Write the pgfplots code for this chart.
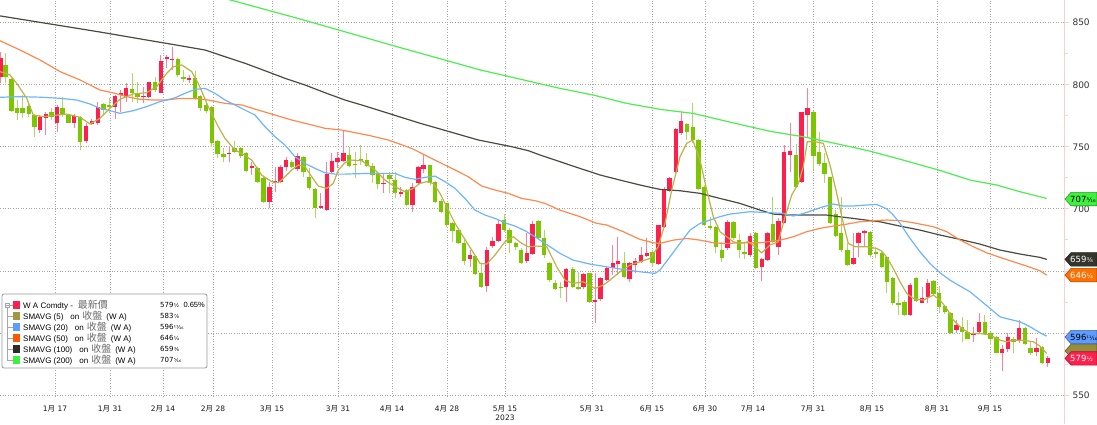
\documentclass[border=0pt]{standalone}
\usepackage{fontspec}
\setmainfont{DejaVu Sans}
\newfontfamily\cjk{Noto Sans CJK TC}
\newfontfamily\lib{Liberation Sans}
\usepackage{pgfplots}
\pgfplotsset{compat=1.18}
\usepackage{pgfplotstable}

\definecolor{upbody}{HTML}{FF1F4D}
\definecolor{upwick}{HTML}{FF7E98}
\definecolor{dnbody}{HTML}{7CC600}
\definecolor{dnwick}{HTML}{ACD86A}
\definecolor{sma5}{HTML}{BDB24A}
\definecolor{sma20}{HTML}{6DB6FF}
\definecolor{sma50}{HTML}{FF8A4C}
\definecolor{sma100}{HTML}{4A4B3E}
\definecolor{sma200}{HTML}{4DEE4D}
\definecolor{axpink}{HTML}{FFCFCF}
\definecolor{gridc}{HTML}{A6A6A6}

% price with an eighths/sixteenths fraction, set small after the figure
\newcommand\px[3][6.5]{#2{\fontsize{#1}{#1}\selectfont\kern0.3pt#3}}
\newcommand\md[2]{#1{\cjk 月} #2}

% x = chart column, o h l c = open high low close
\pgfplotstableread{
x o h l c
1 806.5 826.7 801.2 821.3
5.7 816.0 825.3 801.2 806.5
11.7 804.7 805.2 778.3 779.1
17.3 781.0 787.7 771.6 777.5
22.7 781.3 791.8 773.0 777.5
29 782.9 785.0 774.3 776.4
34.7 775.6 776.4 758.2 766.2
40 763.5 775.6 760.9 774.3
46 773.5 778.3 759.5 776.4
51.7 778.3 781.0 771.6 774.3
57.3 768.9 783.7 762.2 782.4
62.7 781.0 789.9 774.3 776.4
68.7 775.6 776.4 768.9 769.4
74 769.4 776.4 764.9 774.8
80 773.8 774.8 747.4 754.1
86 754.9 768.9 752.8 766.7
91.7 768.4 772.4 767.6 771.1
97.7 768.9 786.4 767.6 782.4
103.3 784.5 785.0 776.4 779.7
109 783.5 789.1 777.0 782.2
115 782.4 791.8 772.4 791.2
120.7 791.8 795.8 778.3 793.6
126 790.4 801.2 786.4 797.1
132 796.3 809.2 786.4 793.6
137.3 793.6 802.5 785.0 789.9
143.3 789.9 798.4 785.0 791.2
148.7 790.4 802.5 789.1 802.0
155 802.0 806.5 794.4 795.8
160.7 793.6 824.0 793.1 819.4
166.7 820.8 824.0 813.3 822.1
172 819.8 830.7 811.9 821.0
177.7 820.8 821.3 806.5 807.9
183.3 806.0 811.9 802.5 804.7
189 803.8 807.8 801.1 805.1
195 805.2 811.3 787.7 789.0
200 790.9 791.7 779.1 781.0
206 783.7 785.0 776.9 779.1
211.7 782.3 782.9 750.1 753.3
217.3 754.9 755.4 740.7 744.2
223.3 744.2 748.7 738.0 741.5
229 743.9 750.1 738.0 745.2
234.3 748.7 754.9 744.7 746.0
240.7 748.7 750.1 740.7 742.6
246 745.2 746.0 729.9 730.7
251.7 733.0 738.0 727.2 734.2
257.3 732.6 733.4 720.5 721.9
263.3 724.5 725.9 704.4 705.7
269.3 705.7 721.9 700.4 717.3
275 720.5 733.4 713.8 722.7
280.3 721.9 735.3 720.5 733.4
286 733.9 742.0 730.7 739.3
291.7 738.0 739.3 732.6 733.4
297.3 731.8 744.7 730.7 742.6
303.3 742.0 742.6 725.9 729.9
309 725.4 732.6 715.1 716.5
315 715.7 716.5 692.3 700.4
320.7 700.8 712.5 699.6 702.2
326.7 699.0 738.0 698.5 728.0
331.7 729.9 745.2 728.6 738.5
337.3 738.0 746.0 732.6 741.2
343.3 738.8 763.5 738.0 744.7
349 743.4 750.1 734.0 734.5
355 736.3 746.0 724.5 735.0
360.7 740.1 751.4 735.3 738.5
366.7 739.3 744.7 734.0 734.8
372.3 734.5 737.2 720.5 727.3
377.7 728.6 730.0 715.7 719.7
383.3 719.8 728.6 712.5 721.0
389.3 727.0 730.0 712.5 724.0
395 723.2 730.0 708.4 712.5
400.7 711.7 717.8 709.8 713.8
406.7 715.1 715.7 702.3 703.1
412.3 703.1 720.5 697.7 717.8
418.3 720.5 734.5 719.2 734.0
423.3 731.8 743.4 728.6 735.3
430 735.3 735.5 719.2 720.5
435 721.9 722.7 704.4 705.8
441 706.6 707.6 696.4 697.7
446.7 704.4 704.9 685.6 687.0
452.3 688.3 689.6 673.5 682.4
458.3 682.9 684.3 671.6 672.2
464 672.7 674.9 654.7 658.2
470 659.5 666.8 653.4 662.8
475 662.0 662.8 646.6 647.5
481 648.5 656.1 636.5 637.2
486.7 637.8 669.5 633.2 666.8
492.3 670.0 677.5 668.1 674.3
498.3 674.1 691.0 673.5 687.5
504 691.0 695.8 681.6 682.9
509.3 682.9 684.3 664.1 672.7
515.7 672.2 673.5 666.8 669.0
521 666.8 668.1 655.5 656.1
526.7 658.2 680.8 656.6 664.1
532.3 663.6 690.4 662.8 687.8
538.3 690.2 691.0 674.9 676.2
544 676.2 682.9 660.1 662.8
549.3 656.0 657.4 641.3 642.6
555 639.9 642.6 634.5 635.1
560.7 637.4 641.3 627.8 636.2
566 637.2 652.0 625.1 651.2
572.7 651.2 653.3 635.9 636.7
578.3 637.2 649.3 634.5 635.6
583.3 637.2 648.5 635.1 647.4
589.3 648.0 648.5 623.8 625.1
595 625.3 648.5 608.2 626.8
600.5 627.0 645.0 626.0 644.0
606.7 642.6 653.3 642.0 652.0
612.7 652.0 670.8 646.6 656.0
617.7 655.5 677.5 646.6 657.9
624 656.6 665.4 644.0 644.8
629.3 643.1 657.4 641.3 656.0
635 654.7 660.1 648.0 658.2
641 657.4 669.5 656.0 662.8
646.7 662.0 676.2 661.4 664.1
652.3 665.4 666.8 653.3 656.6
658.3 655.5 687.0 654.7 687.0
664 685.1 717.8 684.3 715.7
669.3 714.6 725.4 713.8 724.6
675.7 730.0 764.9 728.6 764.1
681 760.8 778.3 759.5 770.8
686.7 768.1 768.9 755.5 762.2
692.7 765.7 785.0 752.8 755.5
698.3 755.5 756.0 715.2 715.7
704 717.8 719.2 686.1 687.0
710 686.1 693.7 682.9 684.3
715.7 685.6 686.1 664.1 668.9
721.7 666.8 673.5 657.4 660.1
727.3 668.1 690.9 666.8 689.6
733.3 689.6 690.4 674.8 676.2
739 674.8 679.7 660.1 666.8
744.3 665.4 672.2 659.3 663.3
750 662.8 680.2 661.4 678.1
755.7 680.2 681.6 651.2 652.0
761.7 652.8 660.1 642.1 659.3
767.3 658.7 681.6 658.2 680.8
772.7 687.7 709.2 672.2 673.5
778.3 669.5 692.3 662.8 690.4
784 688.8 751.4 688.3 746.0
790 743.4 768.9 729.9 746.6
796 743.4 752.2 716.5 717.8
801.3 721.9 778.3 721.1 778.3
807.3 775.6 797.1 758.1 781.0
813.3 778.3 779.1 731.3 742.6
819 746.0 762.2 734.5 736.1
824.3 737.2 744.7 720.5 728.0
830 725.4 725.9 687.7 688.3
835.7 695.8 699.0 677.5 678.1
841 680.2 709.8 665.4 666.8
847.3 666.8 672.2 653.9 654.7
853.3 655.5 680.8 654.7 660.1
858.3 672.7 681.6 661.4 680.8
864.3 680.6 682.9 669.5 681.8
870 681.6 682.4 661.4 662.8
875.7 665.4 669.5 660.1 663.6
881.7 664.6 665.4 652.0 653.3
886.7 660.9 662.0 631.9 641.3
892.7 644.0 645.3 622.4 623.8
898.3 624.3 633.2 614.4 622.3
904.3 625.1 626.5 613.6 614.4
910 614.4 639.9 613.6 638.6
916 644.0 645.3 625.1 626.0
922 624.3 636.7 623.8 627.8
927.7 628.6 643.4 624.3 639.9
933.3 642.1 642.6 630.5 631.3
939 631.9 637.8 615.7 621.1
944.7 621.9 622.5 615.2 617.1
950.3 616.3 617.1 599.1 599.6
956.3 602.3 610.4 599.6 606.1
962 605.0 613.0 592.9 601.0
967.3 601.0 610.4 594.8 595.3
973.3 598.0 605.0 592.9 599.2
979 600.7 615.7 599.1 608.8
984.7 608.8 614.4 598.3 599.1
990.3 599.6 601.0 590.2 595.3
996.3 596.9 597.5 583.5 584.0
1002 583.5 590.2 569.5 586.7
1007.7 586.7 600.1 584.8 596.9
1013.3 595.3 596.9 583.5 592.9
1019 593.2 610.4 592.1 603.7
1025 603.7 605.0 590.2 591.0
1030.3 587.5 592.9 582.2 583.5
1036.3 584.8 595.6 581.3 588.0
1042 588.9 589.4 574.9 575.4
1047.7 576.0 581.3 572.7 579.5
}\candles

\pgfplotsset{
  candle/.style 2 args={draw=none, mark=none, forget plot,
    error bars/y dir=plus, error bars/y explicit, error bars/error mark=none,
    error bars/error bar style={solid, line width=#2, draw=#1}},
}

\begin{document}
\begin{tikzpicture}
\useasboundingbox (0,-27pt) rectangle (1097pt,397pt);
\fill[white] (0,-27pt) rectangle (1097pt,397pt);
\begin{axis}[
  at={(0,0)}, anchor=south west,
  scale only axis, width=1064pt, height=397pt,
  xmin=0, xmax=1064, ymin=548.4, ymax=868.3,
  axis line style={draw=none},
  xtick={55,110,163,213,272,338,392,447,505,592,652,705,753,813,872,937,990},
  xticklabels={\md{1}{17},\md{1}{31},\md{2}{14},\md{2}{28},\md{3}{15},\md{3}{31},\md{4}{14},\md{4}{28},{\md{5}{15}\\2023},\md{5}{31},\md{6}{15},\md{6}{30},\md{7}{14},\md{7}{31},\md{8}{15},\md{8}{31},\md{9}{15}},
  major x tick style={draw=none},
  ytick={550,600,650,700,750,800,850},
  yticklabels={550,,,700,750,800,850},
  minor ytick={575,625,675,725,775,825},
  ytick pos=right, yticklabel pos=right,
  tick align=outside,
  major tick length=5pt, minor tick length=3.5pt,
  every y tick/.style={axpink, line width=0.8pt},
  every minor y tick/.style={axpink, line width=0.8pt},
  grid=major,
  major grid style={gridc, line width=0.8pt, dash pattern=on 1pt off 1.6pt},
  yticklabel style={font=\fontsize{9}{10}\selectfont, text=black!80},
  xticklabel style={font=\fontsize{7.5}{9.5}\selectfont, text=black!90, align=center},
]
% wicks
\addplot[restrict expr to domain={\thisrow{c}-\thisrow{o}}{0:500}, candle={upwick}{1pt}]
  table[x=x, y=l, y error expr=\thisrow{h}-\thisrow{l}]{\candles};
\addplot[restrict expr to domain={\thisrow{c}-\thisrow{o}}{-500:0}, candle={dnwick}{1pt}]
  table[x=x, y=l, y error expr=\thisrow{h}-\thisrow{l}]{\candles};
% bodies
\addplot[restrict expr to domain={\thisrow{c}-\thisrow{o}}{0:500}, candle={upbody}{4.4pt}]
  table[x=x, y=o, y error expr=\thisrow{c}-\thisrow{o}]{\candles};
\addplot[restrict expr to domain={\thisrow{c}-\thisrow{o}}{-500:0}, candle={dnbody}{4.4pt}]
  table[x=x, y=c, y error expr=\thisrow{o}-\thisrow{c}]{\candles};

% SMAVG (200)
\addplot[sma200, line width=1.2pt] coordinates {
(225,869.5) (300,853) (400,830) (480,812) (560,797.1) (593.3,791.7) (626.7,785) (660,780.2) (693.3,776.9) (726.7,770.5) (770,762.5) (803.3,758.1) (836.7,752.5) (870,746.5) (900,740) (940,731) (970,723.2) (996.7,719.2) (1020,713.8) (1046.7,708.4)};
% SMAVG (100)
\addplot[sma100, line width=1.2pt] coordinates {
(0,855.5) (50,849) (100,842.5) (147,836) (180,831.5) (205,828) (225,822.6) (245,817.3) (265,811.3) (285,805.2) (305,799.8) (325,793.6) (345,787.7) (365,782.9) (420,769) (478.3,755.5) (495,752.8) (511.7,750.1) (528.3,746.9) (540,743.4) (560,738) (580,732.6) (600,727.3) (620,723.2) (640,719.2) (660,715.7) (680,714.6) (700,712.5) (720,708.4) (740,704.4) (760,699) (773.3,695.8) (786.7,695) (806.7,695) (826.7,695) (840,693.6) (853.3,692.3) (866.7,690.9) (880,689.6) (900,686.1) (920,682.9) (940,678.9) (960,675.4) (980,671.6) (1000,666.8) (1020,663.6) (1040,660.9) (1046.7,659.3)};
% SMAVG (50)
\addplot[sma50, line width=1.2pt] coordinates {
(0,835.5) (20,828) (40,820) (60,810.6) (80,803.9) (100,795.8) (115,793.1) (126.7,790.4) (140,788.3) (153.3,787.7) (166.7,787.7) (180,789) (195,789) (208.3,787.7) (225,785) (241.7,783.7) (258.3,779.6) (275,775.6) (291.7,771.6) (308.3,768.3) (325,764.9) (341.7,763.5) (355,761.4) (370,759) (388.3,755.5) (411.7,748.7) (435,739.3) (455,731.3) (468.3,725.9) (481.7,718.4) (495,715.2) (508.3,712.5) (521.7,708.4) (535,706.6) (545,704.4) (560,699) (580,693.7) (596.7,688.3) (606.7,687) (623.3,681.6) (640,675.4) (653.3,672.7) (660,672.2) (673.3,674.8) (686.7,676.2) (700,674.8) (713.3,672.7) (725,672) (740,672.7) (760,672.7) (780,674.8) (793.3,677.5) (806.7,681.6) (820,684.3) (833.3,686.1) (846.7,687.7) (860,689.6) (873.3,690.4) (886.7,691) (900,690.5) (913.3,688.8) (933.3,685.6) (946.7,681.6) (960,674.9) (973.3,669.5) (986.7,664.6) (1000,660.9) (1013.3,657.4) (1026.7,653.9) (1040,650.1) (1046.7,646.6)};
% SMAVG (20)
\addplot[sma20, line width=1.2pt] coordinates {
(0,789.9) (20,790.4) (40,790) (60,789.1) (76.7,787.7) (90,784.5) (100,781) (110,779.1) (120,777) (133.3,779.1) (146.7,782.4) (160,786.4) (175,789.5) (185,793.1) (195,796.3) (205,797.1) (215,793.1) (225,787.7) (235,783.7) (245,779.6) (255,775.6) (265,766.2) (275,758.1) (285,751.4) (295,742) (305,736.6) (315,732.6) (325,729.1) (335,728) (345,728) (355,728.3) (375,728.6) (395,728.6) (405,725.4) (415,723.8) (425,725.4) (435,726.4) (445,721.9) (455,716.5) (465,708.4) (475,699) (485,695) (495,692.3) (505,688.8) (515,686.1) (525,682.4) (535,677.5) (545,672.2) (550,669.5) (560,664.1) (573.3,658.7) (590,655.5) (606.7,653.3) (623.3,651.2) (640,649.3) (655,648) (660,650.7) (670,661.4) (680,672.2) (690,682.9) (700,688.3) (710,691) (720,693.7) (730,695.8) (750,697.7) (770,696.9) (783.3,696.3) (793.3,694.2) (803.3,696.3) (813.3,699) (823.3,701.7) (833.3,703.9) (843.3,702.3) (853.3,702.3) (866.7,703.1) (876.7,703.6) (886.7,700) (893.3,695) (900,688.3) (910,676.2) (920,665.4) (930,656) (940,648.5) (950,642.6) (960,637.8) (970,633.2) (980,626.5) (990,619.8) (1000,613) (1010,610.9) (1020,609) (1030,605) (1040,600.2) (1046.7,597.5)};
% SMAVG (5)
\addplot[sma5, line width=1.2pt] coordinates {
(0,810.6) (10,807.9) (16.7,801.2) (26.7,789.1) (33.3,775.6) (43.3,774.3) (66.7,776.4) (80,773.8) (90,768.4) (100,773) (110,781) (120,788.3) (133.3,792.6) (146.7,793.6) (156.7,798.5) (166.7,809.2) (173.3,814.6) (181.7,816) (191.7,810.6) (198.3,801) (208.3,782.3) (218.3,766.2) (225,756.8) (235,747.4) (241.7,744.7) (251.7,739.3) (261.7,727.2) (271.7,721.9) (278.3,721.1) (285,725.9) (291.7,731.3) (298.3,735.3) (305,734) (311.7,725.9) (318.3,718.4) (326.7,716.5) (333.3,720.5) (338.3,731.3) (345,737.2) (351.7,739.3) (361.7,738.8) (375,731.3) (385,723.2) (395,717.8) (405,713.8) (413.3,716.5) (420,720.5) (426.7,721.9) (433.3,720.5) (440,712.5) (446.7,701.7) (455,688.3) (463.3,677.5) (471.7,666.8) (480,656.1) (486.7,655.5) (495,662.8) (505,673.5) (513.3,677.5) (521.7,672.2) (528.3,669.5) (536.7,670) (546.7,669.5) (556.7,653.3) (565,642.6) (573.3,639.9) (583.3,641.3) (595,635.9) (603.3,638.6) (610,642.6) (620,649.3) (630,654.7) (640,657.4) (650,660.1) (658.3,669.5) (665,688.3) (671.7,715.2) (680,742) (686.7,752.8) (692.7,755.5) (700,739.3) (706.7,715.2) (713.3,693.7) (720,681.6) (726.7,677.5) (733.3,673.5) (740,672.2) (748.3,673.5) (755,669.5) (761.7,664.6) (770,670.8) (778.3,673.5) (785,693.6) (791.7,711.1) (798.3,720.5) (803.3,734) (807.3,754.1) (815,754.1) (823.3,752.8) (830,735.3) (836.7,712.5) (843.3,688.3) (848.3,672.2) (855,669.5) (866.7,669.5) (876.7,668.1) (881.7,666) (886.7,661) (893.3,652) (900,641.3) (906.7,631.9) (913.3,627.8) (923.3,626.5) (933.3,630.5) (940,626.5) (946.7,619.8) (953.3,610.4) (961.7,603.7) (970,599.6) (980,599.6) (990,598.3) (1000,594.2) (1006.7,592.9) (1013.3,594.2) (1023.3,594.2) (1033.3,592.9) (1040,589.4) (1046.7,583.5)};

\coordinate (t707) at (axis cs:1064,707.9);
\coordinate (t659) at (axis cs:1064,659.3);
\coordinate (t646) at (axis cs:1064,646.6);
\coordinate (t596) at (axis cs:1064,596.7);
\coordinate (t583) at (axis cs:1064,585.5);
\coordinate (t579) at (axis cs:1064,579.5);
\end{axis}

% right axis line
\draw[axpink, line width=1pt] (1064pt,-27pt) -- (1064pt,397pt);

% value tags
\newcommand\tagbox[2]{%
  \filldraw[fill=#2, draw=#2!65!black, line width=0.6pt]
    ([xshift=1pt]#1) -- ++(6pt,6.7pt) -- ++(26pt,0) -- ++(0,-13.4pt) -- ++(-26pt,0) -- cycle;}
\newcommand\tagtext[3]{%
  \node[anchor=west, inner sep=0pt, text=#2, font=\fontsize{8.5}{10}\selectfont]
    at ([xshift=6pt]#1) {#3};}
\tagbox{t707}{sma200!80!green}\tagtext{t707}{black}{\px{707}{⁵⁄₁₆}}
\tagbox{t659}{sma100!70!black}\tagtext{t659}{white}{\px{659}{³⁄₈}}
\tagbox{t646}{orange!60!red!80!yellow}\tagtext{t646}{white}{\px{646}{¹⁄₄}}
\tagbox{t583}{sma5!80!black}
\tagbox{t596}{sma20!85!blue}\tagtext{t596}{black}{\px[6]{596}{¹¹⁄₁₆}}
\tagbox{t579}{upbody}\tagtext{t579}{white}{\px{579}{¹⁄₂}}

% legend
\filldraw[fill=white, draw=gray!80, line width=0.8pt, rounded corners=2pt] (2pt,29pt) rectangle (207pt,103pt);
\draw[gray!70, line width=0.6pt] (5.1pt,89.8pt) rectangle (9.5pt,94.2pt);
\draw[gray!70, line width=0.6pt] (6.1pt,92pt) -- (8.5pt,92pt);
\draw[gray!70, line width=0.6pt] (9.5pt,92pt) -- (12.5pt,92pt);
\draw[gray!70, line width=0.6pt] (7.3pt,89.8pt) -- (7.3pt,37pt);
\foreach \yy in {81,70,59,48,37} \draw[gray!70, line width=0.6pt] (7.3pt,\yy pt) -- (12.5pt,\yy pt);
\newcommand\cj[1]{{\cjk\fontsize{10}{10}\selectfont\color{gray!85!black}#1}}
\newcommand\lrow[4]{%
  \fill[#2] (13pt,#1pt-3.6pt) rectangle (20.3pt,#1pt+3.6pt);
  \node[anchor=west, inner sep=0pt, font=\lib\fontsize{8}{9}\selectfont] at (23pt,#1pt) {#3};
  \node[anchor=west, inner sep=0pt, font=\fontsize{7}{9}\selectfont] at (160pt,#1pt) {#4};}
\lrow{92}{upbody}{W A Comdty -\hspace{5pt}\cj{最新價}}{\px[5.5]{579}{¹⁄₂}}
\node[anchor=east, inner sep=0pt, font=\lib\fontsize{7.5}{9}\selectfont] at (205pt,92pt) {0.65\%};
\lrow{81}{sma5!85!black}{SMAVG (5)\hspace{7pt}on\hspace{3pt}\cj{收盤}\hspace{4pt}(W A)}{\px[5.5]{583}{⁷⁄₈}}
\lrow{70}{sma20!85!blue}{SMAVG (20)\hspace{7pt}on\hspace{3pt}\cj{收盤}\hspace{4pt}(W A)}{\px[5.5]{596}{¹¹⁄₁₆}}
\lrow{59}{orange!70!red}{SMAVG (50)\hspace{7pt}on\hspace{3pt}\cj{收盤}\hspace{4pt}(W A)}{\px[5.5]{646}{¹⁄₄}}
\lrow{48}{sma100!60!black}{SMAVG (100)\hspace{7pt}on\hspace{3pt}\cj{收盤}\hspace{4pt}(W A)}{\px[5.5]{659}{³⁄₈}}
\lrow{37}{sma200!80!green}{SMAVG (200)\hspace{7pt}on\hspace{3pt}\cj{收盤}\hspace{4pt}(W A)}{\px[5.5]{707}{⁵⁄₁₆}}
\end{tikzpicture}
\end{document}
